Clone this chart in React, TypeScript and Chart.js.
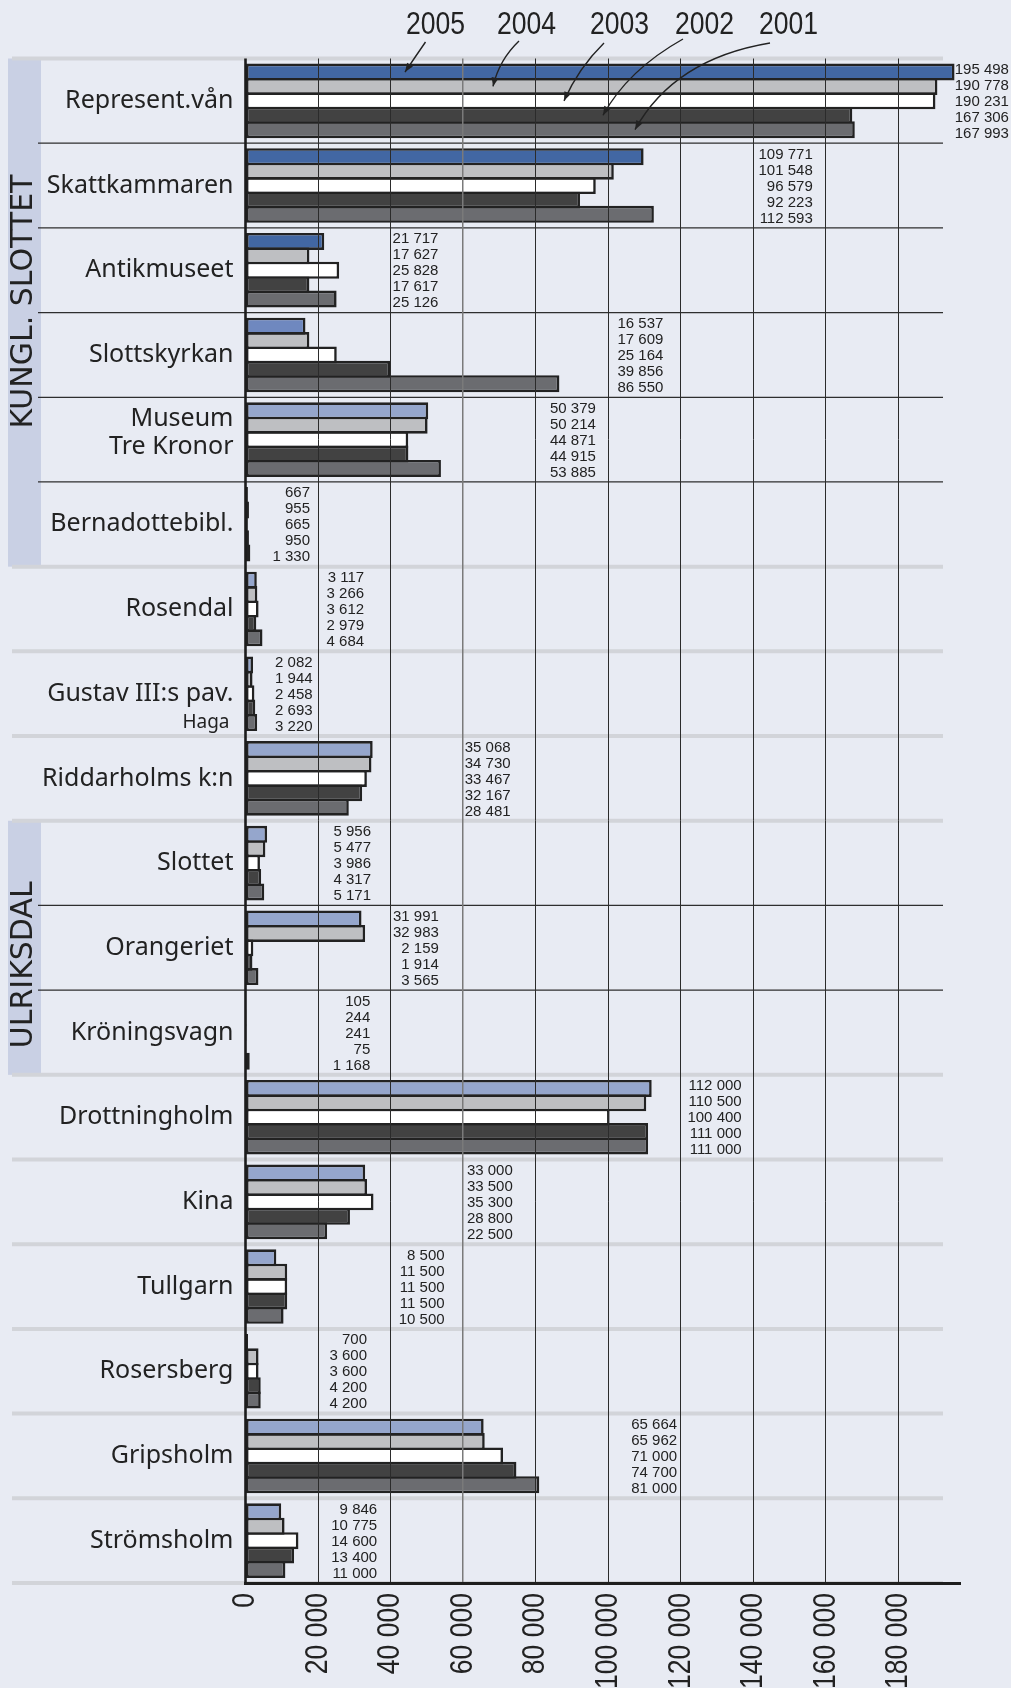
import React, { useEffect, useRef } from "react";
import { Chart, registerables } from "chart.js";

Chart.register(...registerables);

// ---------------- data ----------------
const CATEGORIES = [
  "Represent.vån",
  "Skattkammaren",
  "Antikmuseet",
  "Slottskyrkan",
  "Museum Tre Kronor",
  "Bernadottebibl.",
  "Rosendal",
  "Gustav III:s pav. Haga",
  "Riddarholms k:n",
  "Slottet",
  "Orangeriet",
  "Kröningsvagn",
  "Drottningholm",
  "Kina",
  "Tullgarn",
  "Rosersberg",
  "Gripsholm",
  "Strömsholm",
];

const CATEGORY_LINES: string[][] = [
  ["Represent.vån"],
  ["Skattkammaren"],
  ["Antikmuseet"],
  ["Slottskyrkan"],
  ["Museum", "Tre Kronor"],
  ["Bernadottebibl."],
  ["Rosendal"],
  ["Gustav III:s pav.", "Haga"],
  ["Riddarholms k:n"],
  ["Slottet"],
  ["Orangeriet"],
  ["Kröningsvagn"],
  ["Drottningholm"],
  ["Kina"],
  ["Tullgarn"],
  ["Rosersberg"],
  ["Gripsholm"],
  ["Strömsholm"],
];

const SERIES = ["2005", "2004", "2003", "2002", "2001"];

const Y2005 = [195498, 109771, 21717, 16537, 50379, 667, 3117, 2082, 35068, 5956, 31991, 105, 112000, 33000, 8500, 700, 65664, 9846];
const Y2004 = [190778, 101548, 17627, 17609, 50214, 955, 3266, 1944, 34730, 5477, 32983, 244, 110500, 33500, 11500, 3600, 65962, 10775];
const Y2003 = [190231, 96579, 25828, 25164, 44871, 665, 3612, 2458, 33467, 3986, 2159, 241, 100400, 35300, 11500, 3600, 71000, 14600];
const Y2002 = [167306, 92223, 17617, 39856, 44915, 950, 2979, 2693, 32167, 4317, 1914, 75, 111000, 28800, 11500, 4200, 74700, 13400];
const Y2001 = [167993, 112593, 25126, 86550, 53885, 1330, 4684, 3220, 28481, 5171, 3565, 1168, 111000, 22500, 10500, 4200, 81000, 11000];

const VALUES = [Y2005, Y2004, Y2003, Y2002, Y2001];

const X_MAX = 197000;
const X_STEP = 20000;
const X_LAST_TICK = 180000;

const GROUPS = [
  { name: "KUNGL. SLOTTET", first: 0, last: 5 },
  { name: "ULRIKSDAL", first: 9, last: 11 },
];

// ---------------- layout / style ----------------
// axis value at which the right edge of each row's value column sits
const VALUE_COLUMN_AT = [210500, 156400, 53200, 115200, 96600, 17800, 32700, 18500, 73100, 34600, 53300, 34400, 136800, 73700, 54900, 33500, 119000, 36300];
const GROUP_LABEL_SHIFT = [-11, 17];
const SUBLINE_ROWS = [7];

// legend label centre, arrow start / control point, arrow tip (x offsets from plot left)
const ARROWS = [
  { label: 190, start: [180, 42], ctrl: [170, 56.5], tip: 159.5 },
  { label: 281, start: [273.5, 41], ctrl: [253.7, 59.8], tip: 247.5 },
  { label: 374, start: [358.5, 43], ctrl: [333, 68], tip: 318.5 },
  { label: 459, start: [437.5, 39], ctrl: [382.3, 70], tip: 357.5 },
  { label: 543, start: [524.5, 43], ctrl: [428.5, 59], tip: 389.5 },
];

const W = 1011;
const H = 1688;
const BG = "#e8ebf3";
const BAND = "#c9d0e4";
const SEP_GRAY = "#d2d4d9";
const INK = "#222222";
const FILLS = ["", "#bebfc2", "#ffffff", "#424242", "#6b6c70"];
const blueForRow = (r: number) => (r < 3 ? "#4267a3" : r === 3 ? "#6f88bf" : "#95a6cc");
const CONDENSED_FONT = '32px "Liberation Sans", Arial, sans-serif';
const CONDENSE = 0.83;

const fmt = (v: number) => String(Math.round(v)).replace(/\B(?=(\d{3})+(?!\d))/g, " ");

function condensedText(ctx: CanvasRenderingContext2D, text: string, x: number, y: number, angle: number, align: CanvasTextAlign) {
  ctx.save();
  ctx.translate(x, y);
  ctx.rotate(angle);
  ctx.scale(CONDENSE, 1);
  ctx.font = CONDENSED_FONT;
  ctx.textAlign = align;
  ctx.textBaseline = "middle";
  ctx.fillText(text, 0, 0);
  ctx.restore();
}

const decorPlugin = {
  id: "decor",
  beforeDraw(chart: any) {
    const { ctx, width, height } = chart;
    ctx.save();
    ctx.fillStyle = BG;
    ctx.fillRect(0, 0, width, height);
    ctx.restore();
  },
  beforeDatasetsDraw(chart: any) {
    const { ctx, chartArea: ca, scales } = chart;
    const ys = scales.y;
    const rowH = ys.getPixelForValue(1) - ys.getPixelForValue(0);
    const edge = (k: number) => ys.getPixelForValue(k) - rowH / 2;
    ctx.save();
    ctx.fillStyle = BAND;
    GROUPS.forEach((g) => {
      const t = edge(g.first);
      const b = edge(g.last + 1);
      ctx.fillRect(8, t, 33, b - t);
    });
    const thin = new Set<number>();
    GROUPS.forEach((g) => {
      for (let k = g.first + 1; k <= g.last; k++) thin.add(k);
    });
    for (let k = 0; k <= CATEGORIES.length; k++) {
      const y = edge(k);
      ctx.beginPath();
      if (thin.has(k)) {
        ctx.strokeStyle = "#2e2e2e";
        ctx.lineWidth = 1.2;
        ctx.moveTo(38, y);
      } else {
        ctx.strokeStyle = SEP_GRAY;
        ctx.lineWidth = 4;
        ctx.moveTo(12, y);
      }
      ctx.lineTo(ca.right - 17, y);
      ctx.stroke();
    }
    ctx.restore();
  },
  afterDraw(chart: any) {
    const { ctx, chartArea: ca, scales } = chart;
    const xs = scales.x;
    const ys = scales.y;
    const rowH = ys.getPixelForValue(1) - ys.getPixelForValue(0);
    const edge = (k: number) => ys.getPixelForValue(k) - rowH / 2;
    const x0 = xs.getPixelForValue(0);
    ctx.save();

    // zero line
    ctx.strokeStyle = "#1c1c1c";
    ctx.lineWidth = 2.6;
    ctx.beginPath();
    ctx.moveTo(x0, ca.top);
    ctx.lineTo(x0, ca.bottom);
    ctx.stroke();

    ctx.fillStyle = INK;

    // x tick labels (from the scale's own ticks)
    xs.ticks.forEach((t: any) => {
      const px = xs.getPixelForValue(t.value);
      condensedText(ctx, fmt(t.value), px, ca.bottom + 10, -Math.PI / 2, "right");
    });

    // category labels
    ctx.textAlign = "right";
    ctx.textBaseline = "middle";
    const xr = ca.left - 12;
    CATEGORY_LINES.forEach((lines, r) => {
      const cy = ys.getPixelForValue(r);
      ctx.font = '25px "Noto Sans", sans-serif';
      if (lines.length === 1) {
        ctx.fillText(lines[0], xr, cy);
      } else if (SUBLINE_ROWS.includes(r)) {
        ctx.fillText(lines[0], xr, cy);
        ctx.font = '19px "Noto Sans", sans-serif';
        ctx.fillText(lines[1], xr - 4, cy + 29);
      } else {
        ctx.fillText(lines[0], xr, cy - 21);
        ctx.fillText(lines[1], xr, cy + 7);
      }
    });

    // value columns
    ctx.font = '15px "Liberation Sans", Arial, sans-serif';
    ctx.textAlign = "right";
    CATEGORIES.forEach((_, r) => {
      const cy = ys.getPixelForValue(r);
      const vx = xs.getPixelForValue(VALUE_COLUMN_AT[r]);
      VALUES.forEach((vals, s) => {
        ctx.fillText(fmt(vals[r]), vx, cy + (s - 2) * 16 + 1);
      });
    });

    // group labels
    ctx.font = '30px "DejaVu Sans", sans-serif';
    ctx.textAlign = "center";
    GROUPS.forEach((g, i) => {
      const t = edge(g.first);
      const b = edge(g.last + 1);
      ctx.save();
      ctx.translate(24.5, (t + b) / 2 + GROUP_LABEL_SHIFT[i]);
      ctx.rotate(-Math.PI / 2);
      ctx.fillText(g.name, 0, 0);
      ctx.restore();
    });

    // legend labels with arrows
    ctx.strokeStyle = INK;
    SERIES.forEach((name, s) => {
      const a = ARROWS[s];
      condensedText(ctx, name, ca.left + a.label, 25, 0, "center");
      const bar = chart.getDatasetMeta(s).data[0];
      const tx = ca.left + a.tip;
      const ty = bar.y;
      const sx = ca.left + a.start[0];
      const sy = a.start[1];
      const cx = ca.left + a.ctrl[0];
      const cy = a.ctrl[1];
      ctx.lineWidth = 1.4;
      ctx.beginPath();
      ctx.moveTo(sx, sy);
      ctx.quadraticCurveTo(cx, cy, tx, ty);
      ctx.stroke();
      const ang = Math.atan2(ty - cy, tx - cx);
      const len = 9;
      const hw = 3.5;
      ctx.beginPath();
      ctx.moveTo(tx, ty);
      ctx.lineTo(tx - len * Math.cos(ang) + hw * Math.sin(ang), ty - len * Math.sin(ang) - hw * Math.cos(ang));
      ctx.lineTo(tx - len * Math.cos(ang) - hw * Math.sin(ang), ty - len * Math.sin(ang) + hw * Math.cos(ang));
      ctx.closePath();
      ctx.fill();
    });

    ctx.restore();
  },
};

export default function App() {
  const canvasRef = useRef<HTMLCanvasElement | null>(null);

  useEffect(() => {
    const canvas = canvasRef.current;
    if (!canvas) return;
    const chart = new Chart(canvas, {
      type: "bar",
      data: {
        labels: CATEGORIES,
        datasets: SERIES.map((name, s) => ({
          label: name,
          data: VALUES[s],
          backgroundColor: s === 0 ? CATEGORIES.map((_, r) => blueForRow(r)) : FILLS[s],
          borderColor: INK,
          borderWidth: 2.6,
          borderSkipped: false,
          categoryPercentage: 0.85,
          barPercentage: 1.18,
        })),
      },
      options: {
        indexAxis: "y",
        responsive: false,
        animation: false,
        events: [],
        layout: { padding: { left: 245.5, right: 51, top: 58.5, bottom: 0 } },
        plugins: {
          legend: { display: false },
          tooltip: { enabled: false },
        },
        scales: {
          y: {
            type: "category",
            display: false,
          },
          x: {
            type: "linear",
            position: "bottom",
            min: 0,
            max: X_MAX,
            afterBuildTicks: (scale: any) => {
              const ticks = [];
              for (let v = 0; v <= X_LAST_TICK; v += X_STEP) ticks.push({ value: v });
              scale.ticks = ticks;
            },
            afterFit: (scale: any) => {
              scale.height = 105;
            },
            border: { display: true, color: "#1e1e1e", width: 3, z: 1 },
            grid: {
              z: 1,
              drawTicks: false,
              color: (c: any) =>
                c.tick && c.tick.value === 0 ? "rgba(0,0,0,0)" : c.tick && c.tick.value === 60000 ? "#7a7a7a" : "#2b2b2b",
              lineWidth: (c: any) => (c.tick && c.tick.value === 60000 ? 1.5 : 1),
            },
            ticks: {
              display: false,
              autoSkip: false,
            },
          },
        },
      },
      plugins: [decorPlugin],
    } as any);
    return () => chart.destroy();
  }, []);

  return (
    <div style={{ position: "absolute", left: 0, top: 0, width: W, height: H, background: BG, overflow: "hidden" }}>
      <canvas ref={canvasRef} width={W} height={H} style={{ display: "block", width: W, height: H }} />
    </div>
  );
}
